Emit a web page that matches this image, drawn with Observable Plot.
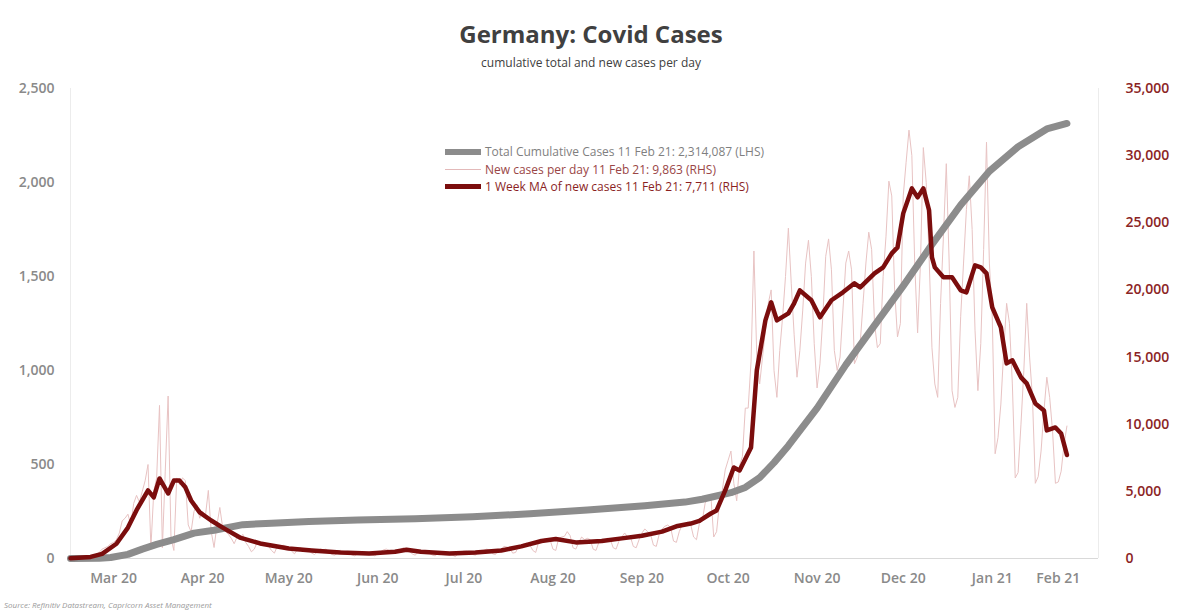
<!DOCTYPE html>
<html>
<head>
<meta charset="utf-8">
<script src="https://cdn.jsdelivr.net/npm/d3@7"></script>
<script src="https://cdn.jsdelivr.net/npm/@observablehq/plot@0.6"></script>
<style>
  body { margin: 0; background: #fff; font-family: "Open Sans", sans-serif; }
  #wrap { position: relative; width: 1182px; height: 612px; overflow: hidden; background: #fff; }
  #chart { position: absolute; left: 0; top: 0; }
  #title { position: absolute; left: 0; top: 19px; width: 1182px; text-align: center; font-size: 24px; font-weight: 700; color: #404040; line-height: 30px; }
  #subtitle { position: absolute; left: 0; top: 56px; width: 1182px; text-align: center; font-size: 12px; color: #404040; line-height: 14px; }
  #legend { position: absolute; left: 445px; top: 143px; font-size: 12px; line-height: 17.5px; }
  #legend .row { display: flex; align-items: center; height: 17.5px; white-space: nowrap; }
  #legend .sw { display: inline-block; width: 36px; margin-right: 4px; }
  #source { position: absolute; left: 4px; top: 599px; font-size: 8px; font-style: italic; color: #9a9a9a; white-space: nowrap; }
</style>
</head>
<body>
<div id="wrap">
  <div id="chart"></div>
  <div id="title">Germany: Covid Cases</div>
  <div id="subtitle">cumulative total and new cases per day</div>
  <div id="legend"></div>
  <div id="source">Source: Refinitiv Datastream, Capricorn Asset Management</div>
</div>
<script>
// ---- Data ----
const dailyStart = "2020-03-01";
// New cases per day (RHS), one value per day from 1 Mar 2020 to 11 Feb 2021 (weeks Sun..Sat)
const dailyNew = [
  15, 30, 40, 60, 80, 150, 170,
  200, 240, 300, 450, 700, 800, 900,
  1100, 1200, 1400, 1900, 2800, 3000, 3300,
  2500, 4100, 4700, 4200, 5000, 5800, 7000,
  800, 5000, 6000, 11400, 800, 6500, 12100,
  1500, 600, 6000, 5500, 6000, 5800, 2500,
  2000, 3500, 4000, 3000, 3500, 3200, 5070,
  2000, 820, 2500, 3800, 2300, 2000, 1800,
  1500, 1100, 1600, 1500, 1800, 1200, 900,
  500, 700, 1200, 1300, 1100, 1000, 900,
  600, 400, 900, 800, 1000, 900, 700,
  550, 350, 650, 800, 700, 650, 600,
  400, 300, 500, 700, 650, 700, 500,
  300, 250, 400, 600, 550, 500, 450,
  250, 200, 350, 500, 500, 450, 300,
  250, 200, 350, 500, 650, 700, 600,
  500, 450, 600, 700, 800, 650, 550,
  350, 250, 450, 550, 500, 450, 400,
  250, 200, 400, 450, 450, 400, 350,
  250, 150, 350, 500, 550, 550, 450,
  300, 250, 450, 600, 600, 700, 600,
  350, 300, 650, 700, 900, 850, 750,
  400, 450, 900, 1000, 1100, 1150, 1000,
  600, 450, 1200, 1250, 1450, 1450, 1400,
  700, 600, 1500, 1600, 1650, 2000, 1700,
  800, 700, 1200, 1600, 1400, 1500, 1400,
  700, 600, 1200, 1300, 1400, 1500, 1400,
  800, 700, 1300, 1600, 1900, 1600, 1600,
  900, 800, 1400, 1900, 2200, 2000, 1800,
  1000, 900, 1800, 2200, 2400, 2500, 2300,
  1300, 1200, 2000, 2500, 2600, 2700, 2500,
  1600, 1400, 2600, 2800, 4100, 4500, 4700,
  1600, 2000, 4100, 5100, 6600, 7300, 8000,
  5600, 4300, 6900, 7600, 11200, 11200, 14700,
  22900, 15000, 13000, 15000, 17000, 19000, 20000,
  14000, 12000, 15500, 18000, 21000, 24600, 20500,
  16700, 13500, 15500, 18500, 22000, 23700, 21000,
  16000, 12700, 14500, 18000, 22500, 23800, 21500,
  15500, 14000, 15000, 18500, 22000, 22900, 21500,
  14500, 15000, 16000, 19000, 22000, 24300, 23000,
  17500, 15700, 16000, 21000, 24000, 28100, 27000,
  20000, 16500, 17500, 27000, 29500, 31900, 30000,
  22000, 16800, 22000, 30600, 28000, 22500, 15700,
  13000, 12000, 19000, 24000, 29400, 22000, 12500,
  11250, 12000, 18000, 22000, 26000, 28500, 24500,
  17000, 12500, 16000, 23000, 31000, 22000, 18000,
  7800, 9000, 11500, 15500, 19000, 17500, 13000,
  6000, 6400, 10000, 14000, 19000, 15000, 12000,
  5600, 6100, 8000, 11000, 13500, 12000, 9500,
  5600, 5700, 6500, 8500, 9863
];

// 1 week moving average of new cases (RHS)
const maDates = [
  "2020-03-01","2020-03-08","2020-03-12","2020-03-17","2020-03-21","2020-03-24","2020-03-28","2020-03-30",
  "2020-04-01","2020-04-04","2020-04-06","2020-04-08","2020-04-10","2020-04-12","2020-04-15","2020-04-19",
  "2020-04-23","2020-04-29","2020-05-06","2020-05-16","2020-05-24","2020-06-03","2020-06-13","2020-06-22",
  "2020-06-26","2020-07-01","2020-07-11","2020-07-20","2020-07-29","2020-08-05","2020-08-12","2020-08-17",
  "2020-08-24","2020-09-02","2020-09-09","2020-09-16","2020-09-23","2020-09-28","2020-10-03","2020-10-06",
  "2020-10-10","2020-10-12","2020-10-15","2020-10-18","2020-10-20","2020-10-24","2020-10-26","2020-10-29",
  "2020-10-31","2020-11-02","2020-11-06","2020-11-08","2020-11-10","2020-11-14","2020-11-17","2020-11-21",
  "2020-11-25","2020-11-29","2020-12-01","2020-12-06","2020-12-09","2020-12-12","2020-12-14","2020-12-16",
  "2020-12-19","2020-12-21","2020-12-23","2020-12-25","2020-12-26","2020-12-27","2020-12-30","2021-01-02",
  "2021-01-05","2021-01-07","2021-01-10","2021-01-12","2021-01-14","2021-01-16","2021-01-19","2021-01-21",
  "2021-01-23","2021-01-26","2021-01-28","2021-01-31","2021-02-03","2021-02-04","2021-02-07","2021-02-09",
  "2021-02-11"
];
const maValues = [
  20, 120, 350, 1100, 2300, 3600, 5070, 4550,
  5960, 4840, 5800, 5800, 5300, 4320, 3430, 2830,
  2300, 1560, 1120, 750, 600, 450, 380, 500,
  650, 500, 380, 450, 600, 900, 1300, 1450,
  1200, 1300, 1500, 1700, 2000, 2400, 2600, 2800,
  3350, 3580, 5070, 6780, 6560, 8270, 14000, 17730,
  19080, 17730, 18250, 19000, 19970, 19230, 17960, 19230,
  19820, 20490, 20190, 21230, 21680, 22720, 23170, 25700,
  27560, 26890, 27560, 25930, 22420, 21680, 20940, 20940,
  19970, 19820, 21830, 21680, 21230, 18700, 17210, 14530,
  14760, 13490, 13040, 11550, 11030, 9540, 9760, 9310,
  7711
];

// Total cumulative cases, thousands (LHS)
const cumDates = [
  "2020-03-01","2020-03-11","2020-03-15","2020-03-21","2020-03-26","2020-03-31","2020-04-06","2020-04-13",
  "2020-04-20","2020-04-30","2020-05-10","2020-05-23","2020-06-09","2020-06-29","2020-07-19","2020-08-08",
  "2020-08-28","2020-09-17","2020-10-01","2020-10-07","2020-10-17","2020-10-22","2020-10-27","2020-11-01",
  "2020-11-06","2020-11-16","2020-11-26","2020-12-06","2020-12-16","2020-12-26","2021-01-05","2021-01-15",
  "2021-01-25","2021-02-04","2021-02-11"
];
const cumValues = [
  0.1, 1, 5, 22, 50, 75, 100, 135,
  150, 180, 188, 197, 205, 212, 222, 238,
  258, 280, 300, 315, 350, 378, 430, 510,
  600, 800, 1030, 1240, 1450, 1670, 1880, 2060,
  2190, 2285, 2314
];

const leftTicks = [0, 500, 1000, 1500, 2000, 2500];
const rightTicks = [0, 5000, 10000, 15000, 20000, 25000, 30000, 35000];
const xTickDates = ["2020-03-16","2020-04-16","2020-05-16","2020-06-16","2020-07-16","2020-08-16",
                    "2020-09-16","2020-10-16","2020-11-16","2020-12-16","2021-01-16","2021-02-08"];
const xTickLabels = ["Mar 20","Apr 20","May 20","Jun 20","Jul 20","Aug 20",
                     "Sep 20","Oct 20","Nov 20","Dec 20","Jan 21","Feb 21"];
const xDomain = ["2020-03-01", "2021-02-22"];

const legendItems = [
  {label: "Total Cumulative Cases 11 Feb 21: 2,314,087 (LHS)", color: "#8c8c8c", text: "#7f7f7f", h: 6},
  {label: "New cases per day 11 Feb 21: 9,863 (RHS)", color: "#e3b9b9", text: "#9a4646", h: 1.5},
  {label: "1 Week MA of new cases 11 Feb 21: 7,711 (RHS)", color: "#7b0d0d", text: "#8b1f1f", h: 5}
];

// ---- Build ----
const parse = d3.utcParse("%Y-%m-%d");
const k = 2500 / 35000; // right axis -> left axis
const start = parse(dailyStart);
const daily = dailyNew.map((v, i) => ({date: d3.utcDay.offset(start, i), v}));
const ma = maDates.map((d, i) => ({date: parse(d), v: maValues[i]}));
const cum = cumDates.map((d, i) => ({date: parse(d), v: cumValues[i]}));
const tickDates = xTickDates.map(parse);
const labelOf = new Map(tickDates.map((d, i) => [+d, xTickLabels[i]]));
const dom = xDomain.map(parse);

const chart = Plot.plot({
  width: 1182,
  height: 612,
  marginTop: 88,
  marginBottom: 54,
  marginLeft: 70,
  marginRight: 84,
  style: {fontFamily: "'Open Sans', sans-serif", background: "white", overflow: "visible"},
  x: {type: "utc", domain: dom},
  y: {domain: [0, 2500]},
  marks: [
    Plot.ruleX(dom, {stroke: "#ececec", strokeWidth: 1}),
    Plot.ruleY([0], {stroke: "#d9d9d9", strokeWidth: 1}),
    Plot.line(daily, {x: "date", y: d => d.v * k, stroke: "#e8c3c3", strokeWidth: 1}),
    Plot.line(cum, {x: "date", y: "v", stroke: "#8c8c8c", strokeWidth: 7}),
    Plot.line(ma, {x: "date", y: d => d.v * k, stroke: "#7b0d0d", strokeWidth: 4.5}),
    Plot.axisY(leftTicks, {anchor: "left", tickSize: 0, tickPadding: 16, tickFormat: d3.format(","),
      fill: "#8a8a8a", fontSize: 14, fontWeight: 600, label: null}),
    Plot.axisY(rightTicks.map(v => v * k), {anchor: "right", tickSize: 0, tickPadding: 27,
      tickFormat: d => d3.format(",")(Math.round(d / k)),
      fill: "#8b2424", fontSize: 14, fontWeight: 600, label: null}),
    Plot.axisX(tickDates, {anchor: "bottom", tickSize: 0, tickPadding: 15,
      tickFormat: d => labelOf.get(+d), fill: "#8a8a8a", fontSize: 14, fontWeight: 600, label: null})
  ]
});
document.getElementById("chart").appendChild(chart);

const legend = d3.select("#legend");
for (const it of legendItems) {
  const row = legend.append("div").attr("class", "row");
  row.append("span").attr("class", "sw").style("height", it.h + "px").style("background", it.color);
  row.append("span").style("color", it.text).text(it.label);
}
</script>
</body>
</html>
